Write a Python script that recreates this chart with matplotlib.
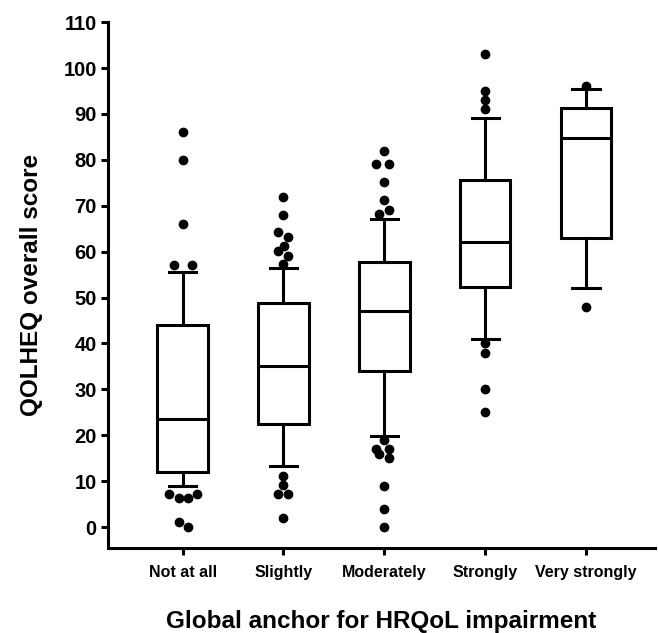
import numpy as np
import matplotlib.pyplot as plt

plt.rcParams['font.family'] = ['Liberation Sans', 'DejaVu Sans']
plt.rcParams['font.weight'] = 'bold'

# данные
categories = ['Not at all', 'Slightly', 'Moderately', 'Strongly', 'Very strongly']
medians = [23.5, 35.0, 47.1, 62.2, 84.7]
q1 = [11.9, 22.4, 34.0, 52.4, 62.9]
q3 = [44.0, 48.8, 57.8, 75.7, 91.4]
whis_lo = [8.9, 13.2, 19.8, 41.0, 52.0]
whis_hi = [55.5, 56.4, 67.2, 89.2, 95.4]

fliers = [
    [86, 80, 66, 57, 57, 7.2, 6.4, 6.4, 7.2, 1, 0],
    [72, 68, 64.2, 63.1, 61.3, 60.1, 59, 57.3, 11.1, 9.2, 7.1, 7.1, 1.9],
    [82, 79.2, 79.2, 75.2, 71.2, 69.1, 68.1, 19, 17.1, 17.1, 16, 15, 9, 3.9, 0],
    [103, 95, 93, 91, 40, 38, 30, 25],
    [96, 48],
]
# небольшой сдвиг точек по горизонтали, чтобы они не слипались
flier_shift = [
    [0, 0, 0, -0.08, 0.09, -0.13, -0.04, 0.05, 0.14, -0.04, 0.05],
    [0, 0, -0.05, 0.05, 0.01, -0.05, 0.05, 0, 0, 0, -0.05, 0.05, 0],
    [0, -0.08, 0.05, 0, 0, 0.05, -0.05, 0, -0.08, 0.05, -0.05, 0.05, 0, 0, 0],
    [0, 0, 0, 0, 0, 0, 0, 0],
    [0, 0],
]

pos = np.arange(1, len(categories) + 1)

stats = []
for i in range(len(categories)):
    stats.append({'med': medians[i], 'q1': q1[i], 'q3': q3[i],
                  'whislo': whis_lo[i], 'whishi': whis_hi[i], 'fliers': []})

fig = plt.figure(figsize=(6.58, 6.33), dpi=100)
ax = fig.add_axes([0.164, 0.134, 0.831, 0.831])

lw = 2.2
ax.bxp(stats, positions=pos, widths=0.5, showfliers=False, patch_artist=True,
       boxprops=dict(facecolor='white', edgecolor='black', linewidth=lw),
       medianprops=dict(color='black', linewidth=lw),
       whiskerprops=dict(color='black', linewidth=lw),
       capprops=dict(color='black', linewidth=lw), capwidths=0.27)

for i in range(len(categories)):
    xs = pos[i] + np.array(flier_shift[i])
    ax.plot(xs, fliers[i], 'o', color='black', markersize=6, zorder=3)

ax.set_xlim(0.26, 5.68)
ax.set_ylim(-4.6, 110)
ax.set_yticks(np.arange(0, 111, 10))
ax.set_xticks(pos)
ax.set_xticklabels(categories, fontsize=11.5, fontweight='bold')
for t in ax.get_yticklabels():
    t.set_fontsize(14.5)
    t.set_fontweight('bold')

for s in ['top', 'right']:
    ax.spines[s].set_visible(False)
for s in ['left', 'bottom']:
    ax.spines[s].set_linewidth(lw)
ax.spines['left'].set_bounds(-4.6, 110)
ax.tick_params(direction='out', length=5, width=lw)
ax.tick_params(axis='x', pad=7)
ax.tick_params(axis='y', pad=3)

ax.set_ylabel('QOLHEQ overall score', fontsize=17.5, fontweight='bold', labelpad=15)
ax.set_xlabel('Global anchor for HRQoL impairment', fontsize=17.5, fontweight='bold', labelpad=22)

fig.savefig('out.png', dpi=100)
